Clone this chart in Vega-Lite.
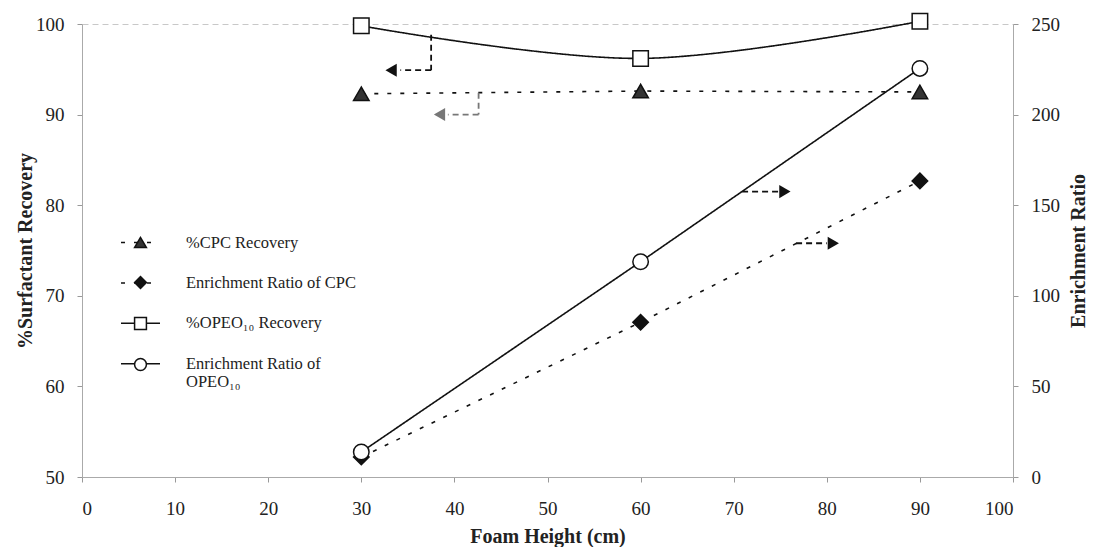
{
  "$schema": "https://vega.github.io/schema/vega-lite/v6.json",
  "width": 931,
  "height": 453,
  "autosize": {"type": "none"},
  "padding": {"left": 82, "top": 24, "right": 80, "bottom": 70},
  "background": "white",
  "config": {
    "font": "Liberation Serif",
    "view": {"stroke": "#c8c8c8", "strokeDash": [6, 4]},
    "axis": {
      "labelFont": "Liberation Serif",
      "titleFont": "Liberation Serif",
      "labelFontSize": 19,
      "labelColor": "#222",
      "titleFontSize": 20,
      "titleFontWeight": "bold",
      "titleColor": "#222",
      "domainColor": "#aaa",
      "tickColor": "#999",
      "tickSize": 5,
      "grid": false
    }
  },
  "datasets": {
    "recovery": [
      {"h": 30, "v": 92.3, "series": "%CPC Recovery", "code": "CPC-R"},
      {"h": 60, "v": 92.6, "series": "%CPC Recovery", "code": "CPC-R"},
      {"h": 90, "v": 92.5, "series": "%CPC Recovery", "code": "CPC-R"},
      {"h": 30, "v": 99.8, "series": "%OPEO₁₀ Recovery", "code": "OPEO-R"},
      {"h": 60, "v": 96.2, "series": "%OPEO₁₀ Recovery", "code": "OPEO-R"},
      {"h": 90, "v": 100.3, "series": "%OPEO₁₀ Recovery", "code": "OPEO-R"}
    ],
    "enrichment": [
      {"h": 30, "v": 11, "series": "Enrichment Ratio of CPC", "code": "CPC-E"},
      {"h": 60, "v": 85.4, "series": "Enrichment Ratio of CPC", "code": "CPC-E"},
      {"h": 90, "v": 163.4, "series": "Enrichment Ratio of CPC", "code": "CPC-E"},
      {"h": 30, "v": 13.8, "series": "Enrichment Ratio of OPEO₁₀", "code": "OPEO-E"},
      {"h": 60, "v": 118.8, "series": "Enrichment Ratio of OPEO₁₀", "code": "OPEO-E"},
      {"h": 90, "v": 225.5, "series": "Enrichment Ratio of OPEO₁₀", "code": "OPEO-E"}
    ],
    "arrows": [
      {"h": 37.5, "h2": 37.5, "v": 98.8, "v2": 94.9, "kind": "opeo-r"},
      {"h": 37.5, "h2": 34.2, "v": 94.9, "v2": 94.9, "kind": "opeo-r"},
      {"h": 42.6, "h2": 42.6, "v": 92.4, "v2": 90.0, "kind": "cpc-r"},
      {"h": 42.6, "h2": 39.3, "v": 90.0, "v2": 90.0, "kind": "cpc-r"},
      {"h": 70.9, "h2": 74.8, "v": 81.5, "v2": 81.5, "kind": "opeo-e"},
      {"h": 76.7, "h2": 80.0, "v": 75.8, "v2": 75.8, "kind": "cpc-e"}
    ],
    "heads": [
      {"h": 33.2, "v": 94.9, "dir": "left", "kind": "opeo-r"},
      {"h": 38.4, "v": 90.0, "dir": "left", "kind": "cpc-r"},
      {"h": 75.5, "v": 81.5, "dir": "right", "kind": "opeo-e"},
      {"h": 80.7, "v": 75.8, "dir": "right", "kind": "cpc-e"}
    ]
  },
  "layer": [
    {
      "encoding": {
        "x": {
          "field": "h",
          "type": "quantitative",
          "scale": {"domain": [0, 100], "nice": false},
          "axis": {
            "values": [0, 10, 20, 30, 40, 50, 60, 70, 80, 90, 100],
            "title": "Foam Height (cm)",
            "labelPadding": 17,
            "titlePadding": 8
          }
        },
        "y": {
          "field": "v",
          "type": "quantitative",
          "scale": {"domain": [50, 100], "nice": false},
          "axis": {
            "orient": "left",
            "values": [50, 60, 70, 80, 90, 100],
            "title": "%Surfactant Recovery",
            "labelPadding": 13,
            "titlePadding": 0
          }
        }
      },
      "layer": [
        {
          "data": {"name": "recovery"},
          "transform": [{"filter": "datum.code == 'CPC-R'"}],
          "mark": {"type": "line", "color": "#111", "strokeWidth": 1.6},
          "encoding": {
            "strokeDash": {
              "field": "series",
              "type": "nominal",
              "scale": {
                "domain": ["%CPC Recovery", "Enrichment Ratio of CPC", "%OPEO₁₀ Recovery", "Enrichment Ratio of OPEO₁₀"],
                "range": [[4, 9], [4, 9], [1, 0], [1, 0]]
              },
              "legend": {
                "orient": "none",
                "legendX": 38,
                "legendY": 198,
                "title": null,
                "padding": 0,
                "symbolType": "stroke",
                "symbolSize": 1520,
                "symbolStrokeWidth": 1.5,
                "symbolStrokeColor": "#111",
                "labelFontSize": 16.5,
                "labelFont": "Liberation Serif",
                "labelColor": "#222",
                "labelOffset": 25,
                "labelLimit": 300,
                "rowPadding": 11.4,
                "labelExpr": "datum.label == 'Enrichment Ratio of OPEO₁₀' ? ['Enrichment Ratio of', 'OPEO₁₀'] : datum.label"
              }
            }
          }
        },
        {
          "data": {"name": "recovery"},
          "transform": [{"filter": "datum.code == 'OPEO-R'"}],
          "mark": {"type": "line", "color": "#111", "strokeWidth": 1.6, "interpolate": "cardinal"},
          "encoding": {
            "strokeDash": {"field": "series", "type": "nominal"}
          }
        },
        {
          "data": {"name": "arrows"},
          "mark": {"type": "rule", "strokeDash": [6, 4], "strokeWidth": 1.8},
          "encoding": {
            "x2": {"field": "h2"},
            "y2": {"field": "v2"},
            "color": {
              "field": "kind",
              "type": "nominal",
              "scale": {"domain": ["opeo-r", "cpc-r", "opeo-e", "cpc-e"], "range": ["#111", "#777", "#111", "#111"]},
              "legend": null
            }
          }
        },
        {
          "data": {"name": "heads"},
          "transform": [{"filter": "datum.dir == 'left'"}],
          "mark": {"type": "point", "shape": "triangle-left", "filled": true, "size": 170, "opacity": 1},
          "encoding": {
            "color": {"field": "kind", "type": "nominal", "legend": null}
          }
        },
        {
          "data": {"name": "heads"},
          "transform": [{"filter": "datum.dir == 'right'"}],
          "mark": {"type": "point", "shape": "triangle-right", "filled": true, "size": 170, "opacity": 1},
          "encoding": {
            "color": {"field": "kind", "type": "nominal", "legend": null}
          }
        },
        {
          "data": {"name": "recovery"},
          "mark": {"type": "point", "stroke": "#111", "strokeWidth": 1.5, "size": 240, "opacity": 1},
          "encoding": {
            "shape": {
              "field": "code",
              "type": "nominal",
              "scale": {"domain": ["CPC-R", "CPC-E", "OPEO-R", "OPEO-E"], "range": ["triangle-up", "diamond", "square", "circle"]},
              "legend": {
                "orient": "none",
                "legendX": 51,
                "legendY": 211,
                "title": null,
                "padding": 0,
                "symbolSize": 140,
                "symbolStrokeWidth": 1.5,
                "labelFontSize": 15,
                "labelFont": "Liberation Serif",
                "labelOpacity": 0,
                "labelOffset": -12,
                "rowPadding": 22,
                "labelExpr": "' '",
                "encode": {
                  "symbols": {
                    "update": {
                      "fill": {"signal": "datum.value == 'CPC-R' ? '#333' : datum.value == 'CPC-E' ? '#111' : 'white'"},
                      "stroke": {"value": "#111"},
                      "strokeWidth": {"value": 1.5},
                      "opacity": {"value": 1}
                    }
                  }
                }
              }
            },
            "fill": {
              "field": "code",
              "type": "nominal",
              "scale": {"domain": ["CPC-R", "CPC-E", "OPEO-R", "OPEO-E"], "range": ["#333", "#111", "white", "white"]},
              "legend": null
            }
          }
        }
      ]
    },
    {
      "data": {"name": "enrichment"},
      "encoding": {
        "x": {"field": "h", "type": "quantitative"},
        "y": {
          "field": "v",
          "type": "quantitative",
          "scale": {"domain": [0, 250], "nice": false},
          "axis": {
            "orient": "right",
            "values": [0, 50, 100, 150, 200, 250],
            "title": "Enrichment Ratio",
            "titleAngle": 270,
            "titleBaseline": "top",
            "labelPadding": 13,
            "titlePadding": 9
          }
        }
      },
      "layer": [
        {
          "mark": {"type": "line", "color": "#111", "strokeWidth": 1.6},
          "encoding": {
            "detail": {"field": "series"},
            "strokeDash": {"field": "series", "type": "nominal"}
          }
        },
        {
          "mark": {"type": "point", "stroke": "#111", "strokeWidth": 1.5, "size": 240, "opacity": 1},
          "encoding": {
            "shape": {"field": "code", "type": "nominal"},
            "fill": {"field": "code", "type": "nominal", "legend": null}
          }
        }
      ]
    }
  ],
  "resolve": {"scale": {"y": "independent"}}
}
